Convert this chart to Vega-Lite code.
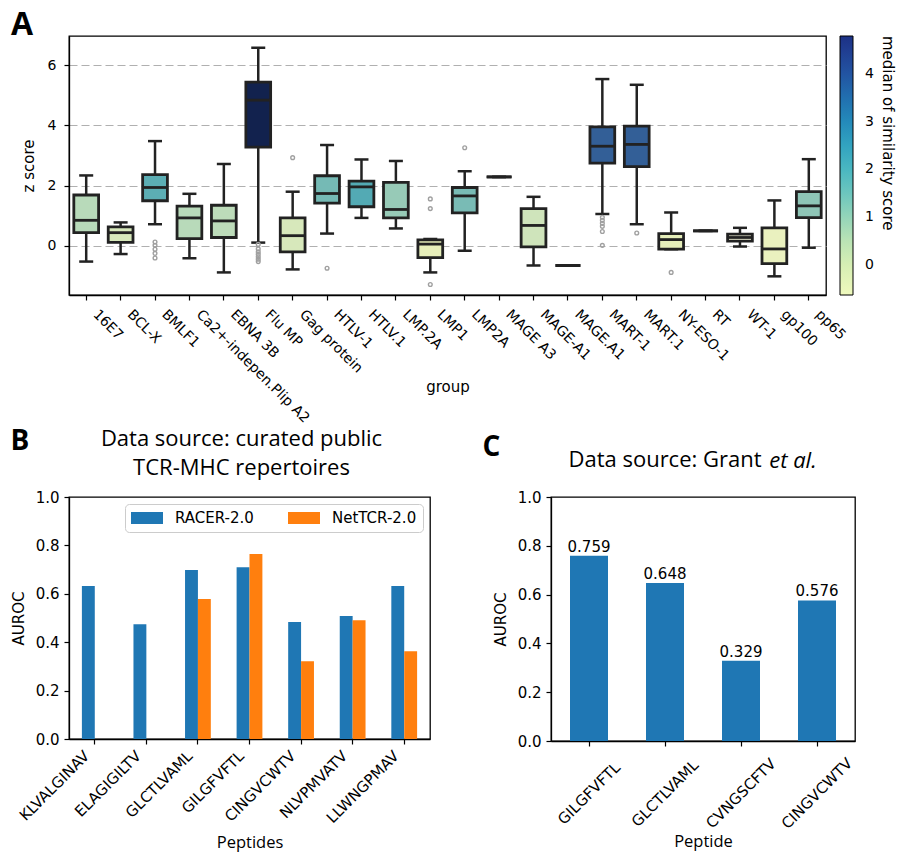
{
  "$schema": "https://vega.github.io/schema/vega-lite/v6.json",
  "background": "white",
  "padding": {"left": 10, "top": 8, "right": 0, "bottom": 0},
  "config": {
    "font": "DejaVu Sans",
    "view": {"stroke": "black", "strokeWidth": 1.3},
    "axis": {"labelFontSize": 14, "titleFontSize": 15, "titleFontWeight": "normal", "labelColor": "black", "titleColor": "black", "tickColor": "black", "domainColor": "black", "tickSize": 5, "tickWidth": 1.2, "domainWidth": 1.3, "grid": false, "labelPadding": 3},
    "title": {"color": "black"},
    "legend": {"labelColor": "black", "titleColor": "black"}
  },
  "datasets": {
    "boxes": [
      {"group": "16E7", "lo": -0.52, "q1": 0.44, "med": 0.85, "q3": 1.69, "hi": 2.34, "sim": 0.9},
      {"group": "BCL-X", "lo": -0.27, "q1": 0.12, "med": 0.44, "q3": 0.63, "hi": 0.78, "sim": 0.4},
      {"group": "BMLF1", "lo": 0.72, "q1": 1.5, "med": 1.94, "q3": 2.37, "hi": 3.48, "sim": 1.95},
      {"group": "Ca2+-indepen.Plip A2", "lo": -0.41, "q1": 0.24, "med": 0.93, "q3": 1.32, "hi": 1.73, "sim": 0.9},
      {"group": "EBNA 3B", "lo": -0.88, "q1": 0.28, "med": 0.83, "q3": 1.35, "hi": 2.72, "sim": 0.85},
      {"group": "Flu MP", "lo": 0.11, "q1": 3.28, "med": 4.84, "q3": 5.44, "hi": 6.58, "sim": 4.79},
      {"group": "Gag protein", "lo": -0.78, "q1": -0.2, "med": 0.34, "q3": 0.93, "hi": 1.8, "sim": 0.4},
      {"group": "HTLV-1", "lo": 0.41, "q1": 1.42, "med": 1.74, "q3": 2.33, "hi": 3.35, "sim": 1.65},
      {"group": "HTLV.1", "lo": 0.93, "q1": 1.3, "med": 1.96, "q3": 2.15, "hi": 2.87, "sim": 2.05},
      {"group": "LMP.2A", "lo": 0.58, "q1": 0.93, "med": 1.21, "q3": 2.11, "hi": 2.82, "sim": 1.25},
      {"group": "LMP1", "lo": -0.88, "q1": -0.39, "med": 0.06, "q3": 0.2, "hi": 0.23, "sim": 0.05},
      {"group": "LMP2A", "lo": -0.16, "q1": 1.1, "med": 1.66, "q3": 1.94, "hi": 2.48, "sim": 1.6},
      {"group": "MAGE A3", "lo": 2.29, "q1": 2.29, "med": 2.29, "q3": 2.29, "hi": 2.29, "sim": 1.0},
      {"group": "MAGE-A1", "lo": -0.65, "q1": -0.03, "med": 0.68, "q3": 1.24, "hi": 1.63, "sim": 0.6},
      {"group": "MAGE.A1", "lo": -0.65, "q1": -0.65, "med": -0.65, "q3": -0.65, "hi": -0.65, "sim": 0.5},
      {"group": "MART-1", "lo": 1.06, "q1": 2.75, "med": 3.31, "q3": 3.95, "hi": 5.54, "sim": 3.45},
      {"group": "MART.1", "lo": 0.72, "q1": 2.63, "med": 3.37, "q3": 3.98, "hi": 5.35, "sim": 3.45},
      {"group": "NY-ESO-1", "lo": -0.11, "q1": -0.11, "med": 0.21, "q3": 0.41, "hi": 1.11, "sim": 0.1},
      {"group": "RT", "lo": 0.5, "q1": 0.5, "med": 0.5, "q3": 0.5, "hi": 0.5, "sim": 0.3},
      {"group": "WT-1", "lo": -0.02, "q1": 0.16, "med": 0.28, "q3": 0.39, "hi": 0.6, "sim": -0.63},
      {"group": "gp100", "lo": -1.01, "q1": -0.59, "med": -0.1, "q3": 0.6, "hi": 1.51, "sim": -0.05},
      {"group": "pp65", "lo": -0.06, "q1": 0.94, "med": 1.33, "q3": 1.8, "hi": 2.88, "sim": 1.35}
    ],
    "outliers": [
      {"group": "BMLF1", "value": 0.13}, {"group": "BMLF1", "value": 0.02}, {"group": "BMLF1", "value": -0.11}, {"group": "BMLF1", "value": -0.25}, {"group": "BMLF1", "value": -0.4},
      {"group": "Flu MP", "value": 0.05}, {"group": "Flu MP", "value": -0.1}, {"group": "Flu MP", "value": -0.2}, {"group": "Flu MP", "value": -0.28}, {"group": "Flu MP", "value": -0.36}, {"group": "Flu MP", "value": -0.44}, {"group": "Flu MP", "value": -0.52},
      {"group": "Gag protein", "value": 2.93},
      {"group": "HTLV-1", "value": -0.74},
      {"group": "LMP1", "value": 1.56}, {"group": "LMP1", "value": 1.24}, {"group": "LMP1", "value": -1.28},
      {"group": "LMP2A", "value": 3.26},
      {"group": "MART-1", "value": 0.95}, {"group": "MART-1", "value": 0.85}, {"group": "MART-1", "value": 0.75}, {"group": "MART-1", "value": 0.65}, {"group": "MART-1", "value": 0.48}, {"group": "MART-1", "value": 0.02},
      {"group": "MART.1", "value": 0.43},
      {"group": "NY-ESO-1", "value": -0.88}
    ],
    "racer": [
      {"peptide": "KLVALGINAV", "model": "RACER-2.0", "auroc": 0.632},
      {"peptide": "ELAGIGILTV", "model": "RACER-2.0", "auroc": 0.474},
      {"peptide": "GLCTLVAML", "model": "RACER-2.0", "auroc": 0.698},
      {"peptide": "GLCTLVAML", "model": "NetTCR-2.0", "auroc": 0.578},
      {"peptide": "GILGFVFTL", "model": "RACER-2.0", "auroc": 0.71},
      {"peptide": "GILGFVFTL", "model": "NetTCR-2.0", "auroc": 0.764},
      {"peptide": "CINGVCWTV", "model": "RACER-2.0", "auroc": 0.483},
      {"peptide": "CINGVCWTV", "model": "NetTCR-2.0", "auroc": 0.321},
      {"peptide": "NLVPMVATV", "model": "RACER-2.0", "auroc": 0.508},
      {"peptide": "NLVPMVATV", "model": "NetTCR-2.0", "auroc": 0.491},
      {"peptide": "LLWNGPMAV", "model": "RACER-2.0", "auroc": 0.632},
      {"peptide": "LLWNGPMAV", "model": "NetTCR-2.0", "auroc": 0.363}
    ],
    "grant": [
      {"peptide": "GILGFVFTL", "auroc": 0.759},
      {"peptide": "GLCTLVAML", "auroc": 0.648},
      {"peptide": "CVNGSCFTV", "auroc": 0.329},
      {"peptide": "CINGVCWTV", "auroc": 0.576}
    ]
  },
  "spacing": 1,
  "resolve": {"scale": {"color": "independent", "fill": "independent"}, "legend": {"color": "independent", "fill": "independent"}},
  "vconcat": [
    {
      "width": 757,
      "height": 259,
      "title": {"text": "A", "anchor": "start", "frame": "bounds", "font": "Open Sans", "fontSize": 32, "fontWeight": "bold", "offset": -6, "dx": -10},
      "encoding": {
        "x": {
          "field": "group", "type": "nominal",
          "scale": {"domain": ["16E7", "BCL-X", "BMLF1", "Ca2+-indepen.Plip A2", "EBNA 3B", "Flu MP", "Gag protein", "HTLV-1", "HTLV.1", "LMP.2A", "LMP1", "LMP2A", "MAGE A3", "MAGE-A1", "MAGE.A1", "MART-1", "MART.1", "NY-ESO-1", "RT", "WT-1", "gp100", "pp65"], "paddingInner": 0, "paddingOuter": 0},
          "axis": {"title": "group", "labelAngle": 45, "labelAlign": "left", "labelBaseline": "top", "bandPosition": 0.5, "titleY": 96, "titleBaseline": "alphabetic", "titleFontSize": 15, "labelPadding": 7, "labelOffset": 14}
        }
      },
      "layer": [
        {
          "data": {"name": "boxes"},
          "mark": {"type": "rule", "stroke": "#222222", "strokeWidth": 2.5},
          "encoding": {
            "y": {"field": "lo", "type": "quantitative", "scale": {"domain": [-1.63, 6.97], "nice": false, "zero": false},
                  "axis": {"title": "z score", "values": [0, 2, 4, 6], "grid": true, "gridDash": [8, 4], "gridColor": "#b0b0b0", "gridWidth": 1.2, "labelPadding": 8, "titlePadding": 11}},
            "y2": {"field": "hi"}
          }
        },
        {
          "data": {"name": "boxes"},
          "mark": {"type": "tick", "color": "#222222", "size": 14, "thickness": 2.5, "opacity": 1},
          "encoding": {"y": {"field": "lo", "type": "quantitative"}}
        },
        {
          "data": {"name": "boxes"},
          "mark": {"type": "tick", "color": "#222222", "size": 14, "thickness": 2.5, "opacity": 1},
          "encoding": {"y": {"field": "hi", "type": "quantitative"}}
        },
        {
          "data": {"name": "boxes"},
          "mark": {"type": "bar", "stroke": "#222222", "strokeWidth": 2.8, "width": {"band": 0.72}},
          "encoding": {
            "y": {"field": "q1", "type": "quantitative"},
            "y2": {"field": "q3"},
            "fill": {"field": "sim", "type": "quantitative", "legend": null,
                     "scale": {"domain": [-0.63, 0.0475, 0.725, 1.4025, 2.08, 2.7575, 3.435, 4.1125, 4.79],
                               "range": ["#fafade", "#e7efba", "#c9e2bb", "#89c3b6", "#51a9b4", "#3189ac", "#336097", "#333e86", "#12224e"],
                               "interpolate": "rgb"}}
          }
        },
        {
          "data": {"name": "boxes"},
          "mark": {"type": "tick", "color": "#222222", "size": 25, "thickness": 2.8, "opacity": 1},
          "encoding": {"y": {"field": "med", "type": "quantitative"}}
        },
        {
          "data": {"name": "outliers"},
          "mark": {"type": "point", "shape": "circle", "filled": false, "stroke": "#a0a0a0", "strokeWidth": 1.4, "size": 14, "opacity": 1},
          "encoding": {"y": {"field": "value", "type": "quantitative"}}
        },
        {
          "data": {"name": "boxes"},
          "mark": {"type": "point", "size": 0, "filled": true, "opacity": 1},
          "encoding": {
            "y": {"field": "med", "type": "quantitative"},
            "color": {"field": "sim", "type": "quantitative",
                      "scale": {"scheme": "yellowgreenblue", "domain": [-0.63, 4.79]},
                      "legend": {"type": "gradient", "direction": "vertical", "gradientLength": 259, "gradientThickness": 13, "values": [0, 1, 2, 3, 4],
                                 "title": "median of similarity score", "titleOrient": "right", "titleAngle": 90, "titleAnchor": "end", "titleLimit": 400, "titleFontSize": 15, "titleFontWeight": "normal", "titlePadding": 6,
                                 "labelFontSize": 14, "labelOffset": 12, "offset": 14, "gradientStrokeColor": "black", "gradientStrokeWidth": 1}}
          }
        }
      ]
    },
    {
      "spacing": 51,
      "resolve": {"scale": {"color": "independent"}, "legend": {"color": "independent"}},
      "hconcat": [
        {
          "title": {"text": "B", "anchor": "start", "frame": "bounds", "font": "Open Sans", "fontSize": 28, "fontWeight": "bold", "offset": -51, "baseline": "alphabetic"},
          "resolve": {"scale": {"color": "independent"}, "legend": {"color": "independent"}},
          "vconcat": [
            {
              "width": 361,
              "height": 242,
              "title": {"text": ["Data source: curated public", "TCR-MHC repertoires"], "font": "Open Sans", "fontSize": 22, "fontWeight": "normal", "lineHeight": 29, "offset": 10, "dx": -8},
              "data": {"name": "racer"},
              "mark": {"type": "bar"},
              "encoding": {
                "x": {"field": "peptide", "type": "nominal", "sort": ["KLVALGINAV", "ELAGIGILTV", "GLCTLVAML", "GILGFVFTL", "CINGVCWTV", "NLVPMVATV", "LLWNGPMAV"],
                      "scale": {"paddingInner": 0.5, "paddingOuter": 0.25},
                      "axis": {"title": "Peptides", "titleFont": "Open Sans", "titleFontSize": 16.5, "titleY": 108, "titleBaseline": "alphabetic", "labelFontSize": 15, "labelAngle": -45, "labelAlign": "right", "labelBaseline": "middle", "labelPadding": 9, "labelOffset": -8, "bandPosition": 0.5}},
                "xOffset": {"field": "model", "type": "nominal", "sort": ["RACER-2.0", "NetTCR-2.0"], "scale": {"paddingInner": 0, "paddingOuter": 0}},
                "y": {"field": "auroc", "type": "quantitative", "scale": {"domain": [0, 1], "nice": false},
                      "axis": {"title": "AUROC", "values": [0, 0.2, 0.4, 0.6, 0.8, 1.0], "format": ".1f", "labelFontSize": 15, "labelPadding": 5, "titlePadding": 9}},
                "color": {"field": "model", "type": "nominal", "sort": ["RACER-2.0", "NetTCR-2.0"], "scale": {"range": ["#1f77b4", "#ff7f0e"]},
                          "legend": {"orient": "top-right", "direction": "horizontal", "title": null, "offset": 7, "padding": 6, "strokeColor": "#cccccc", "fillColor": "white", "cornerRadius": 4,
                                     "labelFontSize": 15, "symbolType": "M-1,-0.75H3V0.75H-1Z", "symbolSize": 256, "symbolStrokeWidth": 0, "symbolOpacity": 1, "labelOffset": 28, "columnPadding": 34}}
              }
            }
          ]
        },
        {
          "title": {"text": "C", "anchor": "start", "frame": "bounds", "font": "Open Sans", "fontSize": 28, "fontWeight": "bold", "offset": -36, "baseline": "alphabetic", "dx": -10},
          "vconcat": [
            {
              "title": {"text": "et al.", "anchor": "end", "frame": "bounds", "font": "Open Sans", "fontSize": 22, "fontStyle": "italic", "fontWeight": "normal", "offset": -42, "baseline": "alphabetic", "dx": -39},
              "vconcat": [
                {
                  "width": 304,
                  "height": 244,
                  "title": {"text": "Data source: Grant", "font": "Open Sans", "fontSize": 22, "fontWeight": "normal", "offset": 18, "dx": -38},
                  "data": {"name": "grant"},
                  "encoding": {
                    "x": {"field": "peptide", "type": "nominal", "sort": ["GILGFVFTL", "GLCTLVAML", "CVNGSCFTV", "CINGVCWTV"],
                          "scale": {"paddingInner": 0.5, "paddingOuter": 0.25},
                          "axis": {"title": "Peptide", "titleFont": "Open Sans", "titleFontSize": 16.5, "titleY": 105, "titleBaseline": "alphabetic", "labelFontSize": 15, "labelAngle": -45, "labelAlign": "center", "labelBaseline": "middle", "labelPadding": 47, "bandPosition": 0.5}},
                    "y": {"field": "auroc", "type": "quantitative", "scale": {"domain": [0, 1], "nice": false},
                          "axis": {"title": "AUROC", "values": [0, 0.2, 0.4, 0.6, 0.8, 1.0], "format": ".1f", "labelFontSize": 15, "labelPadding": 5, "titlePadding": 9}}
                  },
                  "layer": [
                    {"mark": {"type": "bar", "color": "#1f77b4"}},
                    {"mark": {"type": "text", "baseline": "bottom", "dy": -1, "fontSize": 15, "color": "black"},
                     "encoding": {"text": {"field": "auroc", "type": "quantitative", "format": ".3f"}}}
                  ]
                }
              ]
            }
          ]
        }
      ]
    }
  ]
}
